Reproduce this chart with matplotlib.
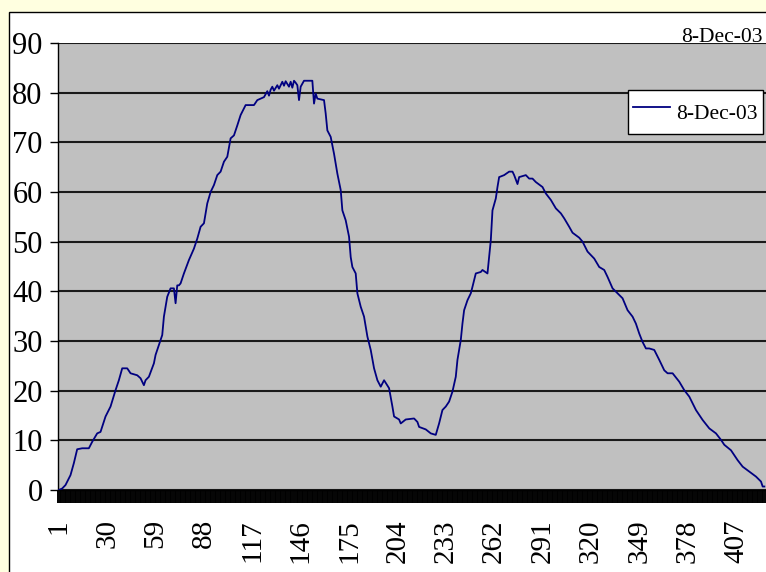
import numpy as np
import matplotlib
matplotlib.use("Agg")
import matplotlib.pyplot as plt
from matplotlib.patches import Rectangle

# readings, category index -> value
cats = [1, 3, 5, 8, 10, 12, 15, 19, 21, 24,
        26, 29, 32, 35, 37, 39, 42, 44, 48, 50,
        52, 53, 55, 58, 59, 61, 63, 64, 66, 68,
        70, 71, 72, 73, 74, 76, 79, 82, 84, 86,
        88, 90, 92, 94, 96, 98, 100, 102, 104, 106,
        108, 110, 113, 118, 120, 122, 124, 126, 127, 128,
        129, 130, 132, 133, 135, 136, 137, 139, 140, 141,
        142, 143, 144, 145, 146, 148, 153, 154, 155, 156,
        160, 161, 162, 164, 166, 168, 170, 171, 173, 175,
        176, 177, 179, 180, 182, 184, 186, 188, 190, 192,
        194, 196, 199, 201, 202, 205, 206, 209, 214, 216,
        217, 221, 224, 227, 229, 231, 233, 235, 237, 239,
        240, 242, 243, 244, 246, 248, 249, 251, 254, 255,
        258, 259, 260, 261, 263, 264, 265, 268, 271, 273,
        274, 276, 277, 281, 283, 285, 287, 291, 293, 296,
        299, 302, 304, 307, 309, 313, 315, 318, 322, 325,
        328, 330, 333, 336, 339, 342, 345, 347, 349, 351,
        353, 355, 358, 361, 364, 366, 369, 373, 376, 379,
        383, 387, 391, 395, 398, 400, 404, 408, 411, 415,
        419, 422, 423, 424]
vals = [0.0, 0.3, 1.0, 3.0, 5.4, 8.2, 8.4, 8.4, 9.7, 11.4,
        11.7, 14.8, 16.8, 20.1, 22.1, 24.5, 24.5, 23.5, 23.1, 22.5,
        21.1, 22.1, 22.8, 25.5, 27.2, 29.2, 31.2, 34.9, 38.9, 40.6,
        40.6, 37.6, 41.2, 41.2, 41.6, 43.6, 46.3, 48.6, 50.6, 53.0,
        53.7, 57.7, 60.0, 61.4, 63.4, 64.1, 66.1, 67.1, 70.8, 71.4,
        73.4, 75.5, 77.5, 77.5, 78.5, 78.8, 79.1, 80.3, 79.4, 80.6,
        81.2, 80.4, 81.5, 80.8, 82.2, 81.4, 82.3, 81.2, 82.2, 81.0,
        82.4, 82.0, 81.5, 78.5, 81.2, 82.4, 82.4, 77.8, 79.8, 78.8,
        78.5, 75.8, 72.4, 71.1, 67.7, 63.7, 60.4, 56.3, 54.3, 51.0,
        46.9, 44.9, 43.6, 39.6, 36.9, 34.9, 30.9, 28.2, 24.5, 22.1,
        20.8, 22.1, 20.5, 16.8, 14.8, 14.2, 13.4, 14.2, 14.4, 13.7,
        12.7, 12.2, 11.4, 11.1, 13.4, 16.1, 16.8, 17.8, 19.8, 22.8,
        26.2, 30.2, 33.5, 36.2, 38.2, 39.6, 40.9, 43.6, 43.9, 44.3,
        43.6, 46.9, 50.3, 56.3, 58.7, 61.0, 63.0, 63.4, 64.1, 64.1,
        63.4, 61.6, 63.0, 63.4, 62.7, 62.7, 62.0, 61.0, 59.7, 58.4,
        56.7, 55.7, 54.7, 53.0, 51.8, 50.8, 50.0, 48.0, 46.6, 44.9,
        44.3, 42.9, 40.6, 39.6, 38.6, 36.2, 34.9, 33.5, 31.5, 29.8,
        28.5, 28.5, 28.2, 26.2, 24.1, 23.5, 23.5, 21.8, 20.1, 18.8,
        16.1, 14.1, 12.4, 11.4, 10.1, 9.1, 8.0, 6.0, 4.7, 3.7,
        2.7, 1.7, 0.7, 0.7]
n_cats = 424
x_labels = [1, 30, 59, 88, 117, 146, 175, 204, 233, 262, 291, 320, 349, 378, 407]
y_ticks = [0, 10, 20, 30, 40, 50, 60, 70, 80, 90]
series_name = "8-Dec-03"

plt.rcParams['font.family'] = ['Liberation Serif', 'DejaVu Serif']

W, H = 766, 572
fig = plt.figure(figsize=(W / 100, H / 100), dpi=100, facecolor='#FFFFE0')

# white chart area with black border (cut off on right / bottom)
fig.patches.append(Rectangle((9 / W, -0.1), 2.0, 1 - 12 / H + 0.1,
                             transform=fig.transFigure, facecolor='white',
                             edgecolor='black', linewidth=1.0, zorder=-5))

left, top, bottom, right = 58, 43, 490, 766
ax = fig.add_axes([left / W, 1 - bottom / H, (right - left) / W, (bottom - top) / H])
ax.set_zorder(2)
ax.set_facecolor('#C0C0C0')

ax.plot(cats, vals, color='#000080', linewidth=1.3, label=series_name, zorder=3)

ax.set_xlim(0.5, n_cats + 1)
ax.set_ylim(0, 90)
ax.set_yticks(y_ticks)
ax.yaxis.grid(True, color='#1a1a1a', linewidth=1.5)
ax.set_axisbelow(True)

ax.set_xticks(x_labels)
ax.set_xticklabels([str(v) for v in x_labels], rotation=90, va='top')
ax.set_xticks(np.arange(0.5, n_cats + 1, 1.0), minor=True)
ax.tick_params(axis='x', which='major', length=0, pad=21, labelsize=21)
ax.tick_params(axis='x', which='minor', length=9, width=1.4, color='black')
ax.tick_params(axis='y', length=6, width=1.0, pad=5, labelsize=22, color='black')

for s in ['top', 'right']:
    ax.spines[s].set_visible(False)
ax.spines['left'].set_color('black')
ax.spines['bottom'].set_color('black')
ax.spines['left'].set_linewidth(1.0)
ax.spines['bottom'].set_linewidth(1.0)

fig.text(763 / W, 1 - 42 / H, series_name, ha='right', va='baseline', fontsize=15.5)

ax.legend(loc='upper right', bbox_to_anchor=(763 / W, 1 - 90 / H),
          bbox_transform=fig.transFigure, borderaxespad=0, fancybox=False,
          edgecolor='black', framealpha=1, fontsize=15.5, handlelength=1.7,
          handleheight=2.0, handletextpad=0.3,
          borderpad=0.25).get_frame().set_linewidth(1.0)

fig.savefig('out.png', dpi=100, facecolor=fig.get_facecolor())
